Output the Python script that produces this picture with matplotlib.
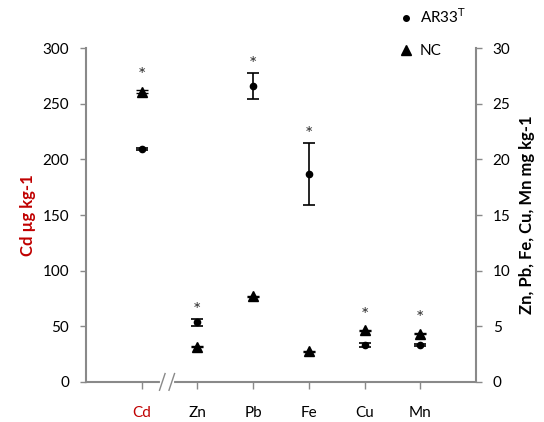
import matplotlib
matplotlib.use('Agg')
import matplotlib.pyplot as plt
import matplotlib.transforms as mtransforms
from matplotlib.lines import Line2D

plt.rcParams['font.family'] = ['Lato', 'DejaVu Sans']

# data
elements = ['Cd', 'Zn', 'Pb', 'Fe', 'Cu', 'Mn']
ar33 = [209.5, 5.35, 26.6, 18.7, 3.3, 3.3]
ar33_err = [1.0, 0.3, 1.2, 2.8, 0.2, 0.1]
nc = [261.0, 3.15, 7.7, 2.75, 4.65, 4.35]
nc_err = [1.0, 0.05, 0.05, 0.05, 0.05, 0.05]
significant = [True, True, True, True, True, True]

grey = '#898989'
red = '#C00000'

fig = plt.figure(figsize=(5.44, 4.22), dpi=100)
ax = fig.add_axes([0.158, 0.095, 0.717, 0.791])
ax2 = ax.twinx()

x = list(range(1, len(elements) + 1))

# Cd on the left axis, everything else on the right axis
for i, xi in enumerate(x):
    a = ax if i == 0 else ax2
    a.errorbar(xi, ar33[i], yerr=ar33_err[i], fmt='o', color='black', ms=4.5,
               capsize=4.5, elinewidth=1.2, capthick=1.2)
    a.errorbar(xi, nc[i], yerr=nc_err[i], fmt='^', color='black', ms=7,
               capsize=4, elinewidth=1.2, capthick=1.0)
    if significant[i]:
        top = max(ar33[i] + ar33_err[i], nc[i] + nc_err[i])
        extra = 10.5 if nc[i] >= ar33[i] else 6
        a.annotate('*', (xi, top), xytext=(0, extra), textcoords='offset points',
                   ha='center', va='center', fontsize=14, color='#333333')

ax.set_xlim(0, 7)
ax.set_ylim(0, 300)
ax2.set_ylim(0, 30)
ax.set_yticks(range(0, 301, 50))
ax2.set_yticks(range(0, 31, 5))
ax.set_xticks(x)
ax.set_xticklabels(elements)

for a in (ax, ax2):
    a.spines['top'].set_visible(False)
    for s in a.spines.values():
        s.set_color(grey)
        s.set_linewidth(1.5)
    a.tick_params(colors=grey, labelcolor='black', labelsize=11, length=4, width=1)
ax2.spines['left'].set_visible(False)
ax2.spines['bottom'].set_visible(False)
ax.spines['right'].set_visible(False)
ax.tick_params(axis='x', pad=12, length=5)
ax.tick_params(axis='y', pad=8)
ax2.tick_params(axis='y', pad=8)
ax.get_xticklabels()[0].set_color(red)

ax.set_ylabel('Cd µg kg-1', color=red, fontweight='bold', fontsize=12, labelpad=5)
ax2.set_ylabel('Zn, Pb, Fe, Cu, Mn mg kg-1', fontweight='bold', fontsize=12, labelpad=6)

# axis break between Cd and Zn
trans = mtransforms.blended_transform_factory(ax.transData, ax.transAxes)
ax.plot([1.37, 1.54], [0, 0], transform=trans, color='white', lw=3, clip_on=False, zorder=5)
for bx in (1.37, 1.54):
    ax.plot([bx - 0.05, bx + 0.05], [-0.025, 0.025], transform=trans, color=grey,
            lw=1, clip_on=False, zorder=6)

handles = [Line2D([], [], marker='o', ls='none', color='black', ms=4),
           Line2D([], [], marker='^', ls='none', color='black', ms=7)]
fig.legend(handles, ['AR33$^{\\mathrm{T}}$', 'NC'], loc='upper left',
           bbox_to_anchor=(0.71, 1.015), frameon=False, fontsize=11,
           labelspacing=1.2, handlelength=0.8, handletextpad=0.5)

fig.savefig('out.png', dpi=100)
